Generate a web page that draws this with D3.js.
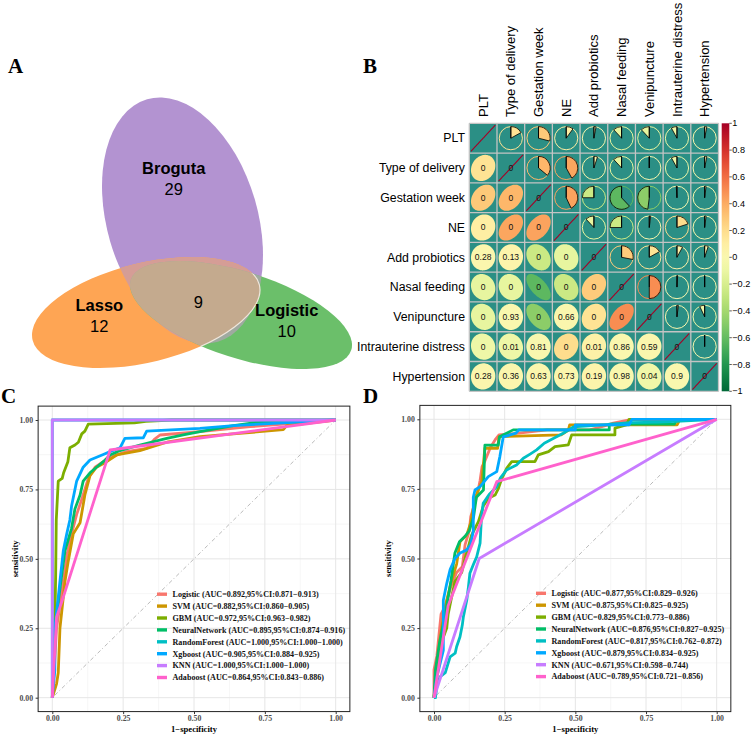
<!DOCTYPE html>
<html><head><meta charset="utf-8">
<script src="https://cdn.jsdelivr.net/npm/d3@7"></script>
<style>body{margin:0;background:#fff}svg{display:block}</style>
</head><body>
<svg id="chart" width="751" height="736"></svg>
<script>
// ---------------- DATA ----------------
const vennSets = ["Broguta", "Lasso", "Logistic"];
const vennCounts = [29, 12, 10];
const vennShared = 9;

const vars = ["PLT","Type of delivery","Gestation week","NE","Add probiotics","Nasal feeding","Venipuncture","Intrauterine distress","Hypertension"];
const corrPLT      = [1, 0.17, 0.29, 0.10, 0.03, -0.12, -0.12, -0.08, 0.03];
const corrDelivery = [0.17, 1, 0.36, 0.42, 0.05, -0.12, 0.00, -0.08, 0.03];
const corrGest     = [0.29, 0.36, 1, 0.43, -0.25, -0.62, -0.48, -0.01, 0.02];
const corrNE       = [0.10, 0.42, 0.43, 1, -0.12, -0.25, 0.02, 0.20, 0.02];
const corrProb     = [0.03, 0.05, -0.25, -0.12, 1, 0.28, 0.17, 0.08, 0.05];
const corrNasal    = [-0.12, -0.12, -0.62, -0.25, 0.28, 1, 0.50, 0.01, 0.00];
const corrVeni     = [-0.12, 0.00, -0.48, 0.02, 0.17, 0.50, 1, 0.02, -0.07];
const corrIntra    = [-0.08, -0.08, -0.01, 0.20, 0.08, 0.01, 0.02, 1, 0.00];
const corrHyper    = [0.03, 0.03, 0.02, 0.02, 0.05, 0.00, -0.07, 0.00, 1];
const pLower = [
  [],
  ["0"],
  ["0","0"],
  ["0","0","0"],
  ["0.28","0.13","0","0"],
  ["0","0","0","0","0"],
  ["0","0.93","0","0.66","0","0"],
  ["0","0.01","0.81","0","0.01","0.86","0.59"],
  ["0.28","0.36","0.63","0.73","0.19","0.98","0.04","0.9"]
];
const colorbarTicks = [1,0.8,0.6,0.4,0.2,0,-0.2,-0.4,-0.6,-0.8,-1];

const models = ["Logistic","SVM","GBM","NeuralNetwork","RandomForest","Xgboost","KNN","Adaboost"];
const modelColors = ["#F8766D","#CD9600","#7CAE00","#00BE67","#00BFC4","#00A9FF","#C77CFF","#FF61CC"];
const aucC = ["0.892,95%CI:0.871\u22120.913","0.882,95%CI:0.860\u22120.905","0.972,95%CI:0.963\u22120.982","0.895,95%CI:0.874\u22120.916","1.000,95%CI:1.000\u22121.000","0.905,95%CI:0.884\u22120.925","1.000,95%CI:1.000\u22121.000","0.864,95%CI:0.843\u22120.886"];
const aucD = ["0.877,95%CI:0.829\u22120.926","0.875,95%CI:0.825\u22120.925","0.829,95%CI:0.773\u22120.886","0.876,95%CI:0.827\u22120.925","0.817,95%CI:0.762\u22120.872","0.879,95%CI:0.834\u22120.925","0.671,95%CI:0.598\u22120.744","0.789,95%CI:0.721\u22120.856"];
const rocTicks = [0, 0.25, 0.5, 0.75, 1];

// panel C ROC points [1-specificity, sensitivity]
const cLogistic = [[0,0],[0.008,0.12],[0.015,0.25],[0.028,0.34],[0.039,0.42],[0.051,0.51],[0.068,0.59],[0.086,0.66],[0.109,0.73],[0.127,0.79],[0.151,0.83],[0.18,0.85],[0.215,0.87],[0.262,0.886],[0.333,0.898],[0.36,0.93],[0.38,0.946],[0.521,0.958],[0.698,0.976],[0.815,0.985],[1,1]];
const cSVM = [[0,0],[0.015,0.05],[0.021,0.09],[0.027,0.25],[0.045,0.42],[0.056,0.49],[0.074,0.59],[0.098,0.63],[0.115,0.73],[0.133,0.8],[0.156,0.83],[0.192,0.85],[0.227,0.874],[0.309,0.89],[0.404,0.92],[0.521,0.94],[0.639,0.95],[0.815,0.965],[0.827,0.98],[1,1]];
const cGBM = [[0,0],[0.008,0.2],[0.012,0.45],[0.014,0.64],[0.021,0.78],[0.035,0.79],[0.04,0.81],[0.055,0.85],[0.062,0.9],[0.08,0.91],[0.092,0.92],[0.104,0.95],[0.115,0.96],[0.127,0.985],[0.29,0.99],[0.33,0.995],[0.42,1],[1,1]];
const cNeural = [[0,0],[0.005,0.15],[0.009,0.25],[0.033,0.44],[0.045,0.53],[0.068,0.61],[0.08,0.68],[0.098,0.73],[0.109,0.78],[0.133,0.81],[0.156,0.83],[0.18,0.85],[0.204,0.874],[0.239,0.89],[0.309,0.91],[0.404,0.934],[0.462,0.946],[0.521,0.958],[0.639,0.98],[0.709,0.99],[1,1]];
const cForest = [[0,0],[0,1],[1,1]];
const cXgboost = [[0,0],[0.009,0.1],[0.009,0.25],[0.02,0.35],[0.027,0.42],[0.039,0.53],[0.051,0.59],[0.062,0.64],[0.068,0.69],[0.086,0.78],[0.109,0.83],[0.133,0.856],[0.18,0.876],[0.204,0.886],[0.239,0.9],[0.256,0.934],[0.321,0.936],[0.333,0.96],[0.521,0.97],[0.639,0.98],[0.815,0.99],[1,1]];
const cKNN = [[0,0],[0,1],[1,1]];
const cAdaboost = [[0,0],[0.015,0.29],[0.035,0.35],[0.204,0.892],[1,1]];

// panel D ROC points
const dLogistic = [[0,0],[0,0.1],[0.01,0.15],[0.02,0.25],[0.025,0.3],[0.04,0.33],[0.06,0.4],[0.08,0.45],[0.1,0.47],[0.11,0.55],[0.125,0.6],[0.13,0.65],[0.145,0.7],[0.155,0.74],[0.163,0.78],[0.17,0.83],[0.18,0.85],[0.2,0.9],[0.216,0.926],[0.23,0.944],[0.3,0.95],[0.4,0.962],[0.55,0.962],[0.6,0.975],[0.63,0.985],[0.7,1],[1,1]];
const dSVM = [[0,0],[0.01,0.1],[0.02,0.2],[0.03,0.27],[0.045,0.35],[0.062,0.42],[0.08,0.48],[0.092,0.56],[0.116,0.585],[0.13,0.63],[0.145,0.716],[0.169,0.776],[0.18,0.896],[0.225,0.896],[0.23,0.938],[0.45,0.944],[0.475,0.96],[0.48,0.98],[0.86,0.98],[0.87,1],[1,1]];
const dGBM = [[0,0],[0.01,0.1],[0.027,0.2],[0.045,0.25],[0.05,0.3],[0.06,0.35],[0.074,0.417],[0.098,0.45],[0.11,0.5],[0.133,0.584],[0.157,0.632],[0.175,0.69],[0.192,0.716],[0.216,0.728],[0.228,0.752],[0.24,0.788],[0.257,0.824],[0.275,0.848],[0.357,0.848],[0.369,0.872],[0.405,0.884],[0.428,0.902],[0.475,0.908],[0.487,0.944],[0.64,0.944],[0.64,0.968],[0.68,0.98],[0.69,1],[1,1]];
const dNeural = [[0,0],[0.005,0.1],[0.02,0.2],[0.03,0.25],[0.045,0.33],[0.06,0.42],[0.074,0.52],[0.09,0.56],[0.11,0.58],[0.125,0.6],[0.14,0.65],[0.15,0.72],[0.175,0.746],[0.18,0.907],[0.227,0.907],[0.232,0.937],[0.28,0.962],[0.62,0.962],[0.62,0.983],[0.85,0.983],[0.86,1],[1,1]];
const dForest = [[0,0],[0.005,0],[0.01,0.04],[0.021,0.075],[0.04,0.09],[0.057,0.147],[0.075,0.16],[0.08,0.183],[0.092,0.219],[0.1,0.26],[0.104,0.291],[0.116,0.351],[0.122,0.4],[0.127,0.447],[0.14,0.48],[0.151,0.506],[0.163,0.555],[0.168,0.65],[0.174,0.698],[0.195,0.73],[0.222,0.758],[0.235,0.79],[0.257,0.818],[0.292,0.836],[0.316,0.86],[0.34,0.875],[0.363,0.89],[0.39,0.914],[0.42,0.93],[0.457,0.95],[0.493,0.973],[0.6,0.98],[0.693,0.988],[0.8,0.99],[1,1]];
const dXgboost = [[0,0],[0.01,0.075],[0.033,0.17],[0.033,0.35],[0.045,0.41],[0.057,0.46],[0.074,0.5],[0.092,0.52],[0.115,0.53],[0.13,0.55],[0.139,0.6],[0.139,0.72],[0.145,0.746],[0.163,0.758],[0.192,0.794],[0.222,0.812],[0.233,0.866],[0.245,0.937],[0.29,0.95],[0.3,0.962],[0.5,0.962],[0.5,0.98],[0.69,0.98],[0.7,1],[1,1]];
const dKNN = [[0,0],[0.16,0.5],[1,1]];
const dAdaboost = [[0,0],[0.05,0.33],[0.222,0.776],[1,1]];

// ---------------- DRAW ----------------
const svg = d3.select("#chart");
svg.append("rect").attr("width",751).attr("height",736).attr("fill","#fff");
const SANS = "'Liberation Sans', Arial, sans-serif";
const SERIF = "'Liberation Serif', 'Times New Roman', serif";

// panel letters
[["A",8,72.5],["B",363,72.5],["C",1,403],["D",363,403]].forEach(([t,x,y])=>{
  svg.append("text").attr("x",x).attr("y",y).text(t)
    .attr("font-family",SERIF).attr("font-weight","bold").attr("font-size",21);
});

// ---------- Panel A: Venn / Euler ----------
const ellP = {cx:182.5, cy:220.5, rx:75.3, ry:126.2, a:-16.3};
const ellO = {cx:146, cy:312.5, rx:116.7, ry:49.6, a:-13.7};
const ellG = {cx:241, cy:315, rx:115.7, ry:43.1, a:17.65};
const defs = svg.append("defs");
function addEll(sel, e){
  return sel.append("ellipse").attr("cx",0).attr("cy",0).attr("rx",e.rx).attr("ry",e.ry)
    .attr("transform",`translate(${e.cx},${e.cy}) rotate(${e.a})`);
}
addEll(defs.append("clipPath").attr("id","clipO"), ellO);
addEll(defs.append("clipPath").attr("id","clipG"), ellG);
const gA = svg.append("g");
addEll(gA, ellP).attr("fill","#b393d1");
addEll(gA, ellO).attr("fill","#fea554");
addEll(gA, ellG).attr("fill","#6bbf6a");
addEll(gA.append("g").attr("clip-path","url(#clipO)"), ellP).attr("fill","#d59d96");
addEll(gA.append("g").attr("clip-path","url(#clipG)"), ellP).attr("fill","#9faaa0");
addEll(gA.append("g").attr("clip-path","url(#clipG)"), ellO).attr("fill","#c4aa8e")
  .attr("stroke","#efe6dc").attr("stroke-width",1.2);
const vennLab = [[173.7,168,189],[99.3,305.7,326.7],[286.7,310.7,331.7]];
vennSets.forEach((s,i)=>{
  gA.append("text").attr("x",vennLab[i][0]).attr("y",vennLab[i][1]).attr("dy","0.35em")
    .attr("text-anchor","middle").attr("font-family",SANS).attr("font-weight","bold")
    .attr("font-size",16.5).text(s);
  gA.append("text").attr("x",vennLab[i][0]).attr("y",vennLab[i][2]).attr("dy","0.35em")
    .attr("text-anchor","middle").attr("font-family",SANS).attr("font-size",16.5).text(vennCounts[i]);
});
gA.append("text").attr("x",198.3).attr("y",302.7).attr("dy","0.35em").attr("text-anchor","middle")
  .attr("font-family",SANS).attr("font-size",16.5).text(vennShared);

// ---------- Panel B: correlation matrix ----------
const corr = [corrPLT,corrDelivery,corrGest,corrNE,corrProb,corrNasal,corrVeni,corrIntra,corrHyper];
const col = r => d3.interpolateRdYlGn((1 - r) / 2);
const gx = d3.scaleBand().domain(d3.range(vars.length)).range([469.3, 718.5]);
const gy = d3.scaleBand().domain(d3.range(vars.length)).range([123.3, 391.3]);
const cw = gx.bandwidth(), ch = gy.bandwidth();
const gB = svg.append("g");
gB.append("rect").attr("x",469.3).attr("y",123.3).attr("width",718.5-469.3).attr("height",391.3-123.3)
  .attr("fill","#2b8f85");
const arc = d3.arc().innerRadius(0).outerRadius(11.6);
corr.forEach((row,i)=>{
  row.forEach((r,j)=>{
    const cx = gx(j)+cw/2, cy = gy(i)+ch/2;
    if (j > i) {
      const g = gB.append("g").attr("transform",`translate(${cx},${cy})`);
      g.append("circle").attr("r",11.6).attr("fill","none").attr("stroke",col(r)).attr("stroke-width",1);
      g.append("path").attr("d",arc({startAngle:0,endAngle:r*2*Math.PI}))
        .attr("fill",col(r)).attr("stroke","#000").attr("stroke-width",0.8);
      g.append("line").attr("x1",0).attr("y1",0).attr("x2",0).attr("y2",-11.6)
        .attr("stroke","#000").attr("stroke-width",0.9);
    } else {
      const d = Math.acos(Math.max(-1,Math.min(1,r)));
      const sx = 0.44*cw, sy = 0.44*ch;
      const pts = d3.range(0, 2*Math.PI+0.001, Math.PI/60).map(t=>[sx*Math.cos(t+d/2), -sy*Math.cos(t-d/2)]);
      const p = gB.append("path").attr("transform",`translate(${cx},${cy})`)
        .attr("d",d3.line()(pts)+"Z").attr("fill",col(r));
      if (i === j) p.attr("stroke",col(r)).attr("stroke-width",1.1);
      const txt = i === j ? (i === 0 ? "" : "0") : pLower[i][j];
      if (txt) gB.append("text").attr("x",cx).attr("y",cy).attr("dy","0.35em").attr("text-anchor","middle")
        .attr("font-family",SANS).attr("font-size",8.5).attr("fill","#111").text(txt);
    }
  });
});
d3.range(vars.length+1).forEach(k=>{
  const x = 469.3 + k*cw, y = 123.3 + k*ch;
  gB.append("line").attr("x1",x).attr("x2",x).attr("y1",123.3).attr("y2",391.3).attr("stroke","#c4c4c4").attr("stroke-width",1.3);
  gB.append("line").attr("y1",y).attr("y2",y).attr("x1",469.3).attr("x2",718.5).attr("stroke","#c4c4c4").attr("stroke-width",1.3);
});
vars.forEach((v,i)=>{
  gB.append("text").attr("x",465).attr("y",gy(i)+ch/2).attr("dy","0.35em").attr("text-anchor","end")
    .attr("font-family",SANS).attr("font-size",12.3).text(v);
  gB.append("text").attr("transform",`translate(${gx(i)+cw/2},117) rotate(-90)`).attr("dy","0.35em")
    .attr("font-family",SANS).attr("font-size",13).text(v);
});
// colorbar
const grad = defs.append("linearGradient").attr("id","cbar").attr("x1",0).attr("y1",0).attr("x2",0).attr("y2",1);
d3.range(0,1.0001,0.05).forEach(t=>grad.append("stop").attr("offset",t).attr("stop-color",col(1-2*t)));
const cb = d3.scaleLinear().domain([1,-1]).range([123.3,391.3]);
gB.append("rect").attr("x",721.7).attr("y",123.3).attr("width",7.6).attr("height",268).attr("fill","url(#cbar)");
colorbarTicks.forEach(t=>{
  gB.append("line").attr("x1",729.3).attr("x2",731.8).attr("y1",cb(t)).attr("y2",cb(t)).attr("stroke","#333").attr("stroke-width",0.8);
  gB.append("text").attr("x",732.3).attr("y",cb(t)).attr("dy","0.35em").attr("font-family",SANS)
    .attr("font-size",9.1).text(t === 0 ? "0" : (t < 0 ? "\u2212" + (-t) : String(t)));
});

// ---------- ROC panels ----------
function rocPanel(cfg){
  const x = d3.scaleLinear().domain([0,1]).range([cfg.x0,cfg.x1]);
  const y = d3.scaleLinear().domain([0,1]).range([cfg.y0,cfg.y1]);
  const g = svg.append("g");
  const L = x(-0.05), R = x(1.05), T = y(1.05), B = y(-0.05);
  g.append("rect").attr("x",L).attr("y",T).attr("width",R-L).attr("height",B-T).attr("fill","#fff");
  [0.125,0.375,0.625,0.875].forEach(v=>{
    g.append("line").attr("x1",x(v)).attr("x2",x(v)).attr("y1",T).attr("y2",B).attr("stroke","#f0f0f0").attr("stroke-width",0.6);
    g.append("line").attr("y1",y(v)).attr("y2",y(v)).attr("x1",L).attr("x2",R).attr("stroke","#f0f0f0").attr("stroke-width",0.6);
  });
  rocTicks.forEach(v=>{
    g.append("line").attr("x1",x(v)).attr("x2",x(v)).attr("y1",T).attr("y2",B).attr("stroke","#e6e6e6").attr("stroke-width",1);
    g.append("line").attr("y1",y(v)).attr("y2",y(v)).attr("x1",L).attr("x2",R).attr("stroke","#e6e6e6").attr("stroke-width",1);
  });
  g.append("line").attr("x1",x(0)).attr("y1",y(0)).attr("x2",x(1)).attr("y2",y(1))
    .attr("stroke","#a8a8a8").attr("stroke-width",0.8).attr("stroke-dasharray","1 2.5 4 2.5");
  const line = d3.line().x(d=>x(d[0])).y(d=>y(d[1]));
  cfg.curves.forEach((c,k)=>{
    g.append("path").attr("d",line(c)).attr("fill","none").attr("stroke",modelColors[k])
      .attr("stroke-width",2.8).attr("stroke-linejoin","round");
  });
  g.append("rect").attr("x",L).attr("y",T).attr("width",R-L).attr("height",B-T)
    .attr("fill","none").attr("stroke","#222").attr("stroke-width",1);
  const ax = g.append("g").attr("transform",`translate(0,${B})`)
    .call(d3.axisBottom(x).tickValues(rocTicks).tickFormat(d3.format(".2f")).tickSize(2.5).tickPadding(1.3));
  const ay = g.append("g").attr("transform",`translate(${L},0)`)
    .call(d3.axisLeft(y).tickValues(rocTicks).tickFormat(d3.format(".2f")).tickSize(2.5).tickPadding(2.5));
  [ax,ay].forEach(a=>{
    a.select(".domain").remove();
    a.selectAll("line").attr("stroke","#333");
    a.selectAll("text").attr("font-family",SERIF).attr("font-weight","bold").attr("font-size",7.8).attr("fill","#4d4d4d");
  });
  g.append("text").attr("x",(x(0)+x(1))/2).attr("y",731.5).attr("text-anchor","middle")
    .attr("font-family",SERIF).attr("font-weight","bold").attr("font-size",8.6).text("1\u2212specificity");
  g.append("text").attr("transform",`translate(${cfg.ylabX},${(T+B)/2}) rotate(-90)`).attr("text-anchor","middle")
    .attr("dy","0.35em").attr("font-family",SERIF).attr("font-weight","bold").attr("font-size",8.6).text("sensitivity");
  models.forEach((m,k)=>{
    const ly = cfg.legY + k*11.9;
    g.append("line").attr("x1",cfg.legX).attr("x2",cfg.legX+10).attr("y1",ly).attr("y2",ly)
      .attr("stroke",modelColors[k]).attr("stroke-width",3.4);
    g.append("text").attr("x",cfg.legX+15.5).attr("y",ly).attr("dy","0.35em")
      .attr("font-family",SERIF).attr("font-weight","bold").attr("font-size",8.1).attr("fill","#111")
      .text(`${m} (AUC=${cfg.auc[k]})`);
  });
}
rocPanel({x0:52.3,x1:335.7,y0:697.7,y1:420,ylabX:15,legX:157,legY:594.2,auc:aucC,
  curves:[cLogistic,cSVM,cGBM,cNeural,cForest,cXgboost,cKNN,cAdaboost]});
rocPanel({x0:434,x1:716.7,y0:697.7,y1:419.3,ylabX:388.3,legX:536,legY:593.3,auc:aucD,
  curves:[dLogistic,dSVM,dGBM,dNeural,dForest,dXgboost,dKNN,dAdaboost]});
</script>
</body></html>
